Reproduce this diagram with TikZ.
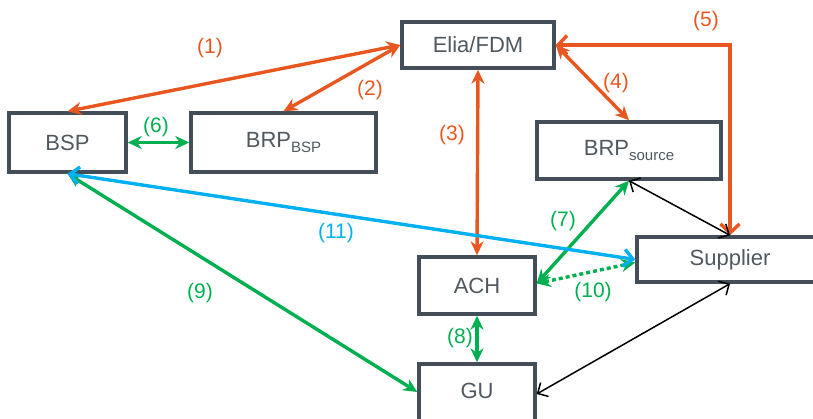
\documentclass[tikz,border=0pt]{standalone}
\usepackage{fontspec}
\setmainfont{Liberation Sans}
\usetikzlibrary{arrows.meta,calc}
\definecolor{orA}{RGB}{233,87,33}
\definecolor{grA}{RGB}{0,176,80}
\definecolor{blA}{RGB}{0,176,240}
\definecolor{boxA}{RGB}{67,78,88}
\definecolor{txA}{RGB}{80,88,96}
\tikzset{
  box/.style={draw=boxA, line width=3.4pt, text=txA, inner sep=0pt,
    font=\fontsize{22}{26}\selectfont},
  lbl/.style={font=\fontsize{21}{25}\selectfont, inner sep=0pt},
  orarr/.style={draw=orA, line width=3.4pt, {Stealth[length=14pt,width=13pt]}-{Stealth[length=14pt,width=13pt]}},
  grarr/.style={draw=grA, line width=3.4pt, {Stealth[length=14pt,width=13pt]}-{Stealth[length=14pt,width=13pt]}},
  blarr/.style={draw=blA, line width=3.4pt, {Straight Barb[length=9pt,width=17pt]}-{Straight Barb[length=9pt,width=17pt]}},
  bkarr/.style={draw=black, line width=1.5pt, {Straight Barb[length=8pt,width=16pt]}-{Straight Barb[length=8pt,width=16pt]}}
}
\newcommand{\subtxt}[1]{{\fontsize{15}{15}\selectfont\raisebox{-5pt}{#1}}}
\begin{document}
\begin{tikzpicture}[x=1pt,y=-1pt]
\useasboundingbox (0,0) rectangle (813,419);
\begin{scope}
\clip (0,0) rectangle (813,419);
\node[box, minimum width=117pt, minimum height=59pt] (bsp) at (67.5,142.5) {BSP};
\node[box, minimum width=185pt, minimum height=59pt] (brpb) at (283.5,142.5) {BRP\subtxt{BSP}};
\node[box, minimum width=152pt, minimum height=46pt] (elia) at (478,45) {Elia/FDM};
\node[box, minimum width=184pt, minimum height=57pt] (brps) at (629,150.5) {BRP\subtxt{source}};
\node[box, minimum width=186pt, minimum height=45pt] (supp) at (730,259.5) {Supplier};
\node[box, minimum width=116pt, minimum height=57pt] (ach) at (477,285.5) {ACH};
\node[box, minimum width=116pt, minimum height=60pt] (gu) at (477,394) {\raisebox{7pt}{GU}};
\end{scope}

% orange
\draw[orarr] (elia.west) -- (bsp.north);
\draw[orarr] (elia.west) -- (brpb.north);
\draw[orarr] (elia.south) -- (ach.north);
\draw[orarr] (elia.east) -- (brps.north);
\draw[draw=orA, line width=3.4pt, {Straight Barb[length=9pt,width=19pt]}-{Straight Barb[length=9pt,width=19pt]}] (elia.east) -| (supp.north);

% black
\draw[bkarr] (brps.south) -- (supp.north);
\draw[bkarr] (supp.south) -- (gu.east);

% green
\draw[grarr] (bsp.east) -- (brpb.west);
\draw[grarr] (brps.south) -- ($(ach.east)+(0,-2)$);
\draw[grarr] (ach.south) -- (gu.north);
\draw[grarr] (bsp.south) -- ($(gu.west)+(0,-2)$);
\draw[draw=grA, line width=3.4pt, dash pattern=on 4pt off 3pt, {Stealth[length=14pt,width=13pt]}-{Stealth[length=14pt,width=13pt]}] ($(ach.east)+(0,-2)$) -- ($(supp.west)+(0,3)$);

% blue
\draw[blarr] (bsp.south) -- (supp.west);

% labels
\node[lbl, text=orA] (l1) at (210,48) {(1)};
\node[lbl, text=orA] (l2) at (370,90) {(2)};
\node[lbl, text=orA] (l3) at (452,135) {(3)};
\node[lbl, text=orA] (l4) at (616,83) {(4)};
\node[lbl, text=orA] (l5) at (706,21) {(5)};
\node[lbl, text=grA] (l6) at (156,127) {(6)};
\node[lbl, text=grA] (l7) at (563,221) {(7)};
\node[lbl, text=grA] (l8) at (460,338) {(8)};
\node[lbl, text=grA] (l9) at (200,293) {(9)};
\node[lbl, text=grA] (l10) at (593,292) {(10)};
\node[lbl, text=blA] (l11) at (336,233) {(11)};
\end{tikzpicture}
\end{document}
